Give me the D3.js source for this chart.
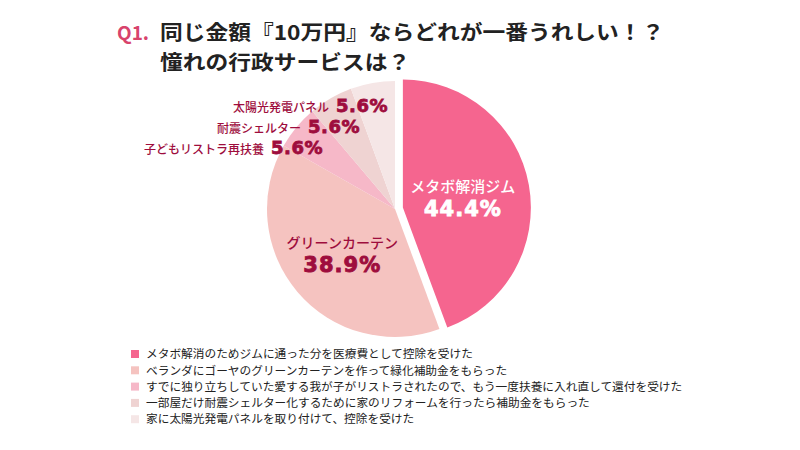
<!DOCTYPE html>
<html>
<head>
<meta charset="utf-8">
<script src="https://cdn.jsdelivr.net/npm/d3@7"></script>
<style>
  body { margin: 0; background: #fff; }
  svg { display: block; }
</style>
</head>
<body>
<svg width="800" height="450"></svg>
<script>
// data
var shortNames = ["メタボ解消ジム", "グリーンカーテン", "子どもリストラ再扶養", "耐震シェルター", "太陽光発電パネル"];
var values = [44.4, 38.9, 5.6, 5.6, 5.6];
var legendLabels = [
  "メタボ解消のためジムに通った分を医療費として控除を受けた",
  "ベランダにゴーヤのグリーンカーテンを作って緑化補助金をもらった",
  "すでに独り立ちしていた愛する我が子がリストラされたので、もう一度扶養に入れ直して還付を受けた",
  "一部屋だけ耐震シェルター化するために家のリフォームを行ったら補助金をもらった",
  "家に太陽光発電パネルを取り付けて、控除を受けた"
];
var titleLines = ["同じ金額『10万円』ならどれが一番うれしい！？", "憧れの行政サービスは？"];
var colors = ["#f5658f", "#f5c3c0", "#f6b8c8", "#efd3d2", "#f5e6e6"];

var jp = "'Noto Sans CJK JP', 'Noto Sans', sans-serif";
var num = "'DejaVu Sans', 'Liberation Sans', sans-serif";
var dark = "#9e0d3d";

var svg = d3.select("svg");

// title
var title = svg.append("g").attr("font-family", jp).attr("font-weight", 700);
title.append("text").attr("x", 117).attr("y", 40)
  .attr("font-size", 19).attr("fill", "#d8436c").text("Q1.");
// two lines, a bit widened so they keep the reference width without touching
title.append("g")
  .attr("transform", "translate(160,0) scale(1.11,1)")
  .selectAll("text")
  .data(titleLines)
  .enter().append("text")
  .attr("x", 0)
  .attr("y", function(d, i) { return 40 + i * 30; })
  .attr("font-size", 20.5).attr("fill", "#222")
  .text(function(d) { return d; });

// pie
var cx = 395, cy = 209, r = 128, explode = 8;
var pie = d3.pie().sort(null).value(function(d) { return d; });
var arcs = pie(values);
var arc = d3.arc().innerRadius(0).outerRadius(r);
var labelArc = d3.arc().innerRadius(r * 0.5).outerRadius(r * 0.5);

var g = svg.append("g").attr("transform", "translate(" + cx + "," + cy + ")");

function offset(d, i) {
  if (i != 0) return [0, 0];
  var a = (d.startAngle + d.endAngle) / 2;
  return [Math.sin(a) * explode, -Math.cos(a) * explode];
}

g.selectAll("path")
  .data(arcs)
  .enter().append("path")
  .attr("d", arc)
  .attr("fill", function(d, i) { return colors[i]; })
  .attr("transform", function(d, i) { return "translate(" + offset(d, i) + ")"; });

// big labels (inside)
arcs.slice(0, 2).forEach(function(d, i) {
  var c = labelArc.centroid(d), o = offset(d, i);
  var x = c[0] + o[0] - (i == 0 ? 3 : 4), y = c[1] + o[1] + (i == 0 ? 2 : 4);
  var col = i == 0 ? "#fff" : dark;
  g.append("text").attr("x", x).attr("y", y - 6)
    .attr("text-anchor", "middle").attr("font-family", jp)
    .attr("font-size", i == 0 ? 15 : 14).attr("font-weight", 500)
    .attr("fill", col).text(shortNames[i]);
  g.append("text").attr("x", x).attr("y", y + 18)
    .attr("text-anchor", "middle").attr("font-family", num)
    .attr("font-size", 21).attr("font-weight", 700)
    .attr("fill", col).attr("stroke", col).attr("stroke-width", 0.9)
    .attr("letter-spacing", 1)
    .text(d3.format(".1f")(values[i]) + "%");
});

// small labels (stacked, upper left)
var smallEnds = [-72, -35, -7];
arcs.slice(2).forEach(function(d, k) {
  var i = k + 2;
  var t = g.append("text")
    .attr("x", smallEnds[k])
    .attr("y", -103 + (2 - k) * 21 + 6)
    .attr("text-anchor", "end").attr("fill", dark);
  t.append("tspan").attr("font-family", jp).attr("font-size", 12)
    .attr("font-weight", 500).text(shortNames[i]);
  t.append("tspan").attr("dx", 7).attr("font-family", num)
    .attr("font-size", 18).attr("font-weight", 700)
    .attr("stroke", dark).attr("stroke-width", 0.8)
    .attr("letter-spacing", 0.5)
    .text(d3.format(".1f")(values[i]) + "%");
});

// legend
var legend = svg.append("g").attr("font-family", jp).attr("font-size", 11.7)
  .selectAll("g")
  .data(legendLabels)
  .enter().append("g")
  .attr("transform", function(d, i) { return "translate(131," + (354 + i * 16.3) + ")"; });
legend.append("rect")
  .attr("x", 0).attr("y", -4).attr("width", 8).attr("height", 8)
  .attr("fill", function(d, i) { return colors[i]; });
legend.append("text")
  .attr("x", 15).attr("dy", "0.36em").attr("fill", "#222")
  .text(function(d) { return d; });
</script>
</body>
</html>
